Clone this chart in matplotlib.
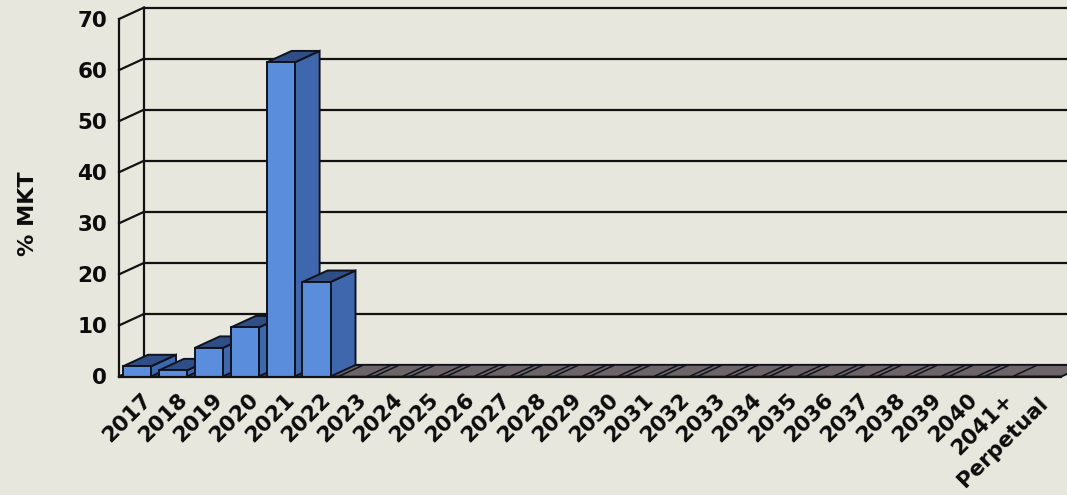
import matplotlib
matplotlib.use("Agg")
import matplotlib.pyplot as plt
from matplotlib.patches import Polygon
from matplotlib.transforms import offset_copy
from matplotlib.textpath import TextPath
from matplotlib.font_manager import FontProperties
import numpy as np

# ---- data -------------------------------------------------------------
categories = ["2017", "2018", "2019", "2020", "2021", "2022", "2023", "2024",
              "2025", "2026", "2027", "2028", "2029", "2030", "2031", "2032",
              "2033", "2034", "2035", "2036", "2037", "2038", "2039", "2040",
              "2041+\nPerpetual"]
values = [2.0, 1.2, 5.6, 9.6, 61.5, 18.5, 0, 0, 0, 0, 0, 0, 0, 0, 0, 0,
          0, 0, 0, 0, 0, 0, 0, 0, 0]
y_ticks = [0, 10, 20, 30, 40, 50, 60, 70]
y_label = "% MKT"

# ---- style ------------------------------------------------------------
BG = "#e8e7de"
FRONT = "#5a8edc"
SIDE = "#3f67ad"
TOP = "#2f4e86"
ZERO_TOP = "#6c6466"
EDGE = "#0f131e"
LINE = "#121212"
FS = 15.5

W, H, DPI = 1067, 495, 100
fig = plt.figure(figsize=(W / DPI, H / DPI), dpi=DPI, facecolor=BG)
ax = fig.add_axes([0, 0, 1, 1])
ax.set_facecolor(BG)
ax.axis("off")

# data scale: one category = 35.9 px, one percent = 5.107 px
px_cat, px_val = 35.9, 5.107
x0_px, y0_px = 137.0, H - 376.5
ax.set_xlim(-x0_px / px_cat, (W - x0_px) / px_cat)
ax.set_ylim(-y0_px / px_val, (H - y0_px) / px_val)

# oblique depth offset (in data units)
DX = 25.0 / px_cat
DY = 11.5 / px_val
xl = -0.5                      # left wall front edge
xr = ax.get_xlim()[1] + 1      # walls run past the right edge
ymax = y_ticks[-1]
bw = 0.78                      # bar width

# back wall gridlines and left wall
for v in y_ticks:
    ax.plot([xl + DX, xr], [v + DY, v + DY], color=LINE, lw=1.6, zorder=1)
    ax.plot([xl, xl + DX], [v, v + DY], color=LINE, lw=1.6, zorder=1)
ax.plot([xl, xl], [0, ymax], color=LINE, lw=1.6, zorder=1)
ax.plot([xl + DX, xl + DX], [DY, ymax + DY], color=LINE, lw=1.6, zorder=1)

# floor
floor_end = 25.75
ax.add_patch(Polygon([(xl, 0), (floor_end, 0), (floor_end + DX, DY), (xl + DX, DY)],
                     closed=True, facecolor=ZERO_TOP, edgecolor=EDGE, lw=1.4, zorder=2))

# bars, drawn left to right so right-hand bars cover left-hand side faces
for i, v in enumerate(values):
    xa, xb = i - bw / 2, i + bw / 2
    top = [(xa, v), (xb, v), (xb + DX, v + DY), (xa + DX, v + DY)]
    if v <= 0:
        ax.add_patch(Polygon(top, closed=True, facecolor=ZERO_TOP,
                             edgecolor=EDGE, lw=1.1, zorder=3 + i))
        continue
    front = [(xa, 0), (xb, 0), (xb, v), (xa, v)]
    side = [(xb, 0), (xb + DX, DY), (xb + DX, v + DY), (xb, v)]
    for poly, col in ((side, SIDE), (top, TOP), (front, FRONT)):
        ax.add_patch(Polygon(poly, closed=True, facecolor=col,
                             edgecolor=EDGE, lw=1.4, zorder=3 + i,
                             joinstyle="miter"))

# front edge of the floor
ax.plot([xl, floor_end], [0, 0], color=LINE, lw=1.6, zorder=40)

# y tick labels
ytr = offset_copy(ax.transData, fig=fig, x=-12, y=0, units="dots")
for v in y_ticks:
    ax.text(xl, v, str(v), transform=ytr, ha="right", va="center_baseline",
            fontsize=FS, fontweight="bold", color="#0c0c0c", zorder=50)

# y axis title
fig.text(28 / W, 1 - 214 / H, y_label, rotation=90, ha="center", va="center",
         fontsize=16, fontweight="bold", color="#0c0c0c")

# x tick labels (rotated 45 degrees)
fp = FontProperties(family="DejaVu Sans", weight="bold", size=FS)
lab_dx, lab_dy = 11, -20
xtr = offset_copy(ax.transData, fig=fig, x=lab_dx, y=lab_dy, units="dots")
c45 = np.cos(np.radians(45))
for i, lab in enumerate(categories):
    lines = lab.split("\n")
    ax.text(i, 0, lines[0], transform=xtr, rotation=45, rotation_mode="anchor",
            ha="right", va="center", fontproperties=fp, color="#0c0c0c", zorder=50)
    if len(lines) > 1:
        # second line centred under the first one
        w_pt = TextPath((0, 0), lines[0], prop=fp).get_extents().width
        w_px = w_pt * DPI / 72.0
        gap = 27.0
        ox = lab_dx - (w_px / 2) * c45 + gap * c45
        oy = lab_dy - (w_px / 2) * c45 - gap * c45
        tr2 = offset_copy(ax.transData, fig=fig, x=ox, y=oy, units="dots")
        ax.text(i, 0, lines[1], transform=tr2, rotation=45, rotation_mode="anchor",
                ha="center", va="center", fontproperties=fp, color="#0c0c0c", zorder=50)

fig.savefig("out.png", dpi=DPI, facecolor=BG)
